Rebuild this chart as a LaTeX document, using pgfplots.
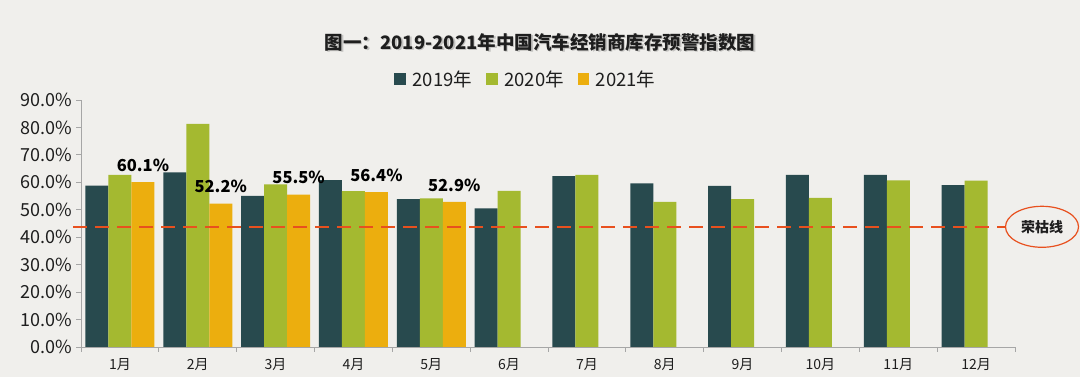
\documentclass[border=0pt]{standalone}
\usepackage{pgfplots}
\pgfplotsset{compat=1.18}
\usepackage{fontspec}
\setmainfont{Noto Sans CJK SC}
\usetikzlibrary{shapes.geometric}
\definecolor{bg}{HTML}{F0EFEC}
\definecolor{c19}{HTML}{284A4E}
\definecolor{c20}{HTML}{A4B930}
\definecolor{c21}{HTML}{ECAE0E}
\definecolor{redl}{HTML}{E8501E}
\definecolor{axgray}{HTML}{A6A6A6}
\definecolor{txt}{HTML}{1E1E1E}
\begin{document}
\begin{tikzpicture}
\fill[bg] (0pt,0pt) rectangle (1080pt,377pt);
\node[font=\fontsize{18.5}{20}\selectfont\bfseries, text=black, opacity=0.18] at (541.5pt,333.5pt) {图一：2019-2021年中国汽车经销商库存预警指数图};
\node[font=\fontsize{18.5}{20}\selectfont\bfseries, text=txt] at (540pt,335pt) {图一：2019-2021年中国汽车经销商库存预警指数图};
\begin{axis}[
  at={(81pt,30pt)}, anchor=south west, scale only axis,
  width=934pt, height=247pt,
  xmin=-0.5, xmax=11.5, ymin=0, ymax=90,
  ybar=0pt, bar width=23pt,
  clip=false,
  axis lines=left, axis line style={-, draw=axgray, line width=0.8pt},
  tick align=outside, major tick length=5pt,
  every tick/.style={draw=axgray, line width=0.8pt},
  xtick={-0.5,0.5,1.5,2.5,3.5,4.5,5.5,6.5,7.5,8.5,9.5,10.5,11.5},
  x tick label as interval,
  xticklabels={1月,2月,3月,4月,5月,6月,7月,8月,9月,10月,11月,12月},
  x tick label style={font=\fontsize{14}{16}\selectfont, text=txt, yshift=-3pt},
  ytick={0,10,...,90},
  yticklabel={\pgfmathprintnumber[fixed,fixed zerofill,precision=1]{\tick}\%},
  y tick label style={font=\fontsize{18}{20}\selectfont, text=txt},
  /pgf/number format/assume math mode=true,
  legend style={at={(0.4764,1.085)}, anchor=center, draw=none, fill=none,
    legend columns=3, font=\fontsize{18.5}{20}\selectfont, text=txt,
    /tikz/every odd column/.append style={column sep=4.5pt},
    /tikz/every even column/.append style={column sep=12pt}},
  legend image code/.code={\fill[#1] (0pt,-5.8pt) rectangle (11.6pt,5.8pt);},
]
\addplot[fill=c19, draw=none] coordinates {(0,58.8) (1,63.6) (2,55.1) (3,60.8) (4,53.9) (5,50.5) (6,62.3) (7,59.6) (8,58.7) (9,62.7) (10,62.7) (11,59.0)};
\addplot[fill=c20, draw=none] coordinates {(0,62.7) (1,81.3) (2,59.3) (3,56.8) (4,54.2) (5,56.9) (6,62.7) (7,52.9) (8,53.9) (9,54.3) (10,60.7) (11,60.6)};
\addplot[fill=c21, draw=none,
  nodes near coords={\pgfmathprintnumber[fixed,fixed zerofill,precision=1]{\pgfplotspointmeta}\%},
  nodes near coords style={font=\fontsize{16.5}{18}\selectfont\bfseries, text=black, yshift=7pt}]
  coordinates {(0,60.1) (1,52.2) (2,55.5) (3,56.4) (4,52.9)};
\legend{2019年,2020年,2021年}
\addplot[sharp plot, forget plot, draw=redl, line width=2pt, dash pattern=on 14pt off 8pt]
  coordinates {(-0.6,43.8) (11.37,43.8)};
\node[draw=redl, ellipse, minimum width=73pt, minimum height=41pt, line width=1.2pt,
  font=\fontsize{14}{16}\selectfont\bfseries, text=txt] at (axis cs:11.847,43.8) {荣枯线};
\end{axis}
\end{tikzpicture}
\end{document}
